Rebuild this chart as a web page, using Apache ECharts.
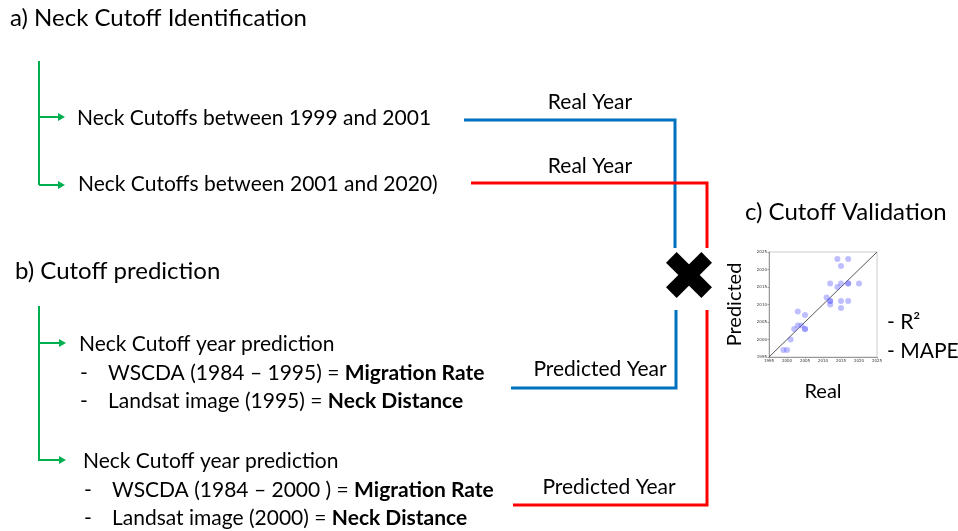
<!DOCTYPE html>
<html><head><meta charset="utf-8">
<script src="https://cdn.jsdelivr.net/npm/echarts@6/dist/echarts.min.js"></script>
<style>html,body{margin:0;padding:0;background:#fff}#c{width:958px;height:531px}</style>
</head><body><div id="c"></div>
<script>
// ---- data ----
const realYear = [1999,2000,2001,2002,2003,2004,2003,2005,2005,2005,2011,2012,2012,2012,2012,2014,2015,2017,2014,2015,2017,2017,2020,2015,2015,2017];
const predYear = [1997,1997,2000,2003,2004,2004,2008,2007,2003,2003,2012,2011,2011,2010,2016,2023,2021,2023,2015,2016,2016,2016,2016,2011,2009,2011];
const axisRange = [1995, 2025];
const tickLabels = ['1995','2000','2005','2010','2015','2020','2025'];
const sectionTitles = ['a) Neck Cutoff Identification','b) Cutoff prediction','c) Cutoff Validation'];
const cutoffItems = ['Neck Cutoffs between 1999 and 2001','Neck Cutoffs between 2001 and 2020)'];
const predItems = ['Neck Cutoff year prediction','Neck Cutoff year prediction'];
const wscda = ['WSCDA (1984 – 1995) = ','WSCDA (1984 – 2000 ) = '];
const landsat = ['Landsat image (1995) = ','Landsat image (2000) = '];
const metrics = ['- R²','- MAPE'];

const FF = 'Lato, "Open Sans", sans-serif';
const GREEN = '#00b050', BLUE = '#0070c0', RED = '#ff0000';
const TS = 21, HS = 24;
const g = [];
function txt(x,y,t,size,opt){ g.push({type:'text',style:{x:x,y:y,text:t,fill:'#000',font:(opt&&opt.bold?'bold ':'')+size+'px '+FF,textVerticalAlign:'middle',textAlign:(opt&&opt.align)||'left'}}); }
function rich(x,y,a,b,size){ g.push({type:'text',style:{x:x,y:y,text:'{n|'+a+'}{b|'+b+'}',textVerticalAlign:'middle',rich:{n:{fontFamily:FF,fontSize:size,fill:'#000',color:'#000'},b:{fontFamily:FF,fontSize:size,fontWeight:'bold',fill:'#000',color:'#000'}}}}); }
function pl(pts,color,w){ g.push({type:'polyline',shape:{points:pts},style:{stroke:color,lineWidth:w,fill:null,lineJoin:'miter'}}); }
function arrow(x0,x1,y){ pl([[x0,y],[x1-6,y]],GREEN,2); g.push({type:'polygon',shape:{points:[[x1-7,y-4],[x1,y],[x1-7,y+4]]},style:{fill:GREEN}}); }

// titles
txt(10,18,sectionTitles[0],HS);
txt(15,271,sectionTitles[1],HS);
txt(745,212,sectionTitles[2],HS);
// tree a
pl([[39,61],[39,185]],GREEN,2); arrow(39,65,117); arrow(39,65,185);
txt(77,118,cutoffItems[0],TS);
txt(78,184,cutoffItems[1],TS);
// tree b
pl([[39,306],[39,461]],GREEN,2); arrow(39,66,343); arrow(39,66,460);
txt(79,344,predItems[0],TS);
txt(80,373,'-',TS); rich(108,373,wscda[0],'Migration Rate',TS);
txt(80,401,'-',TS); rich(108,401,landsat[0],'Neck Distance',TS);
txt(83,461,predItems[1],TS);
txt(84,490,'-',TS); rich(112,490,wscda[1],'Migration Rate',TS);
txt(84,518,'-',TS); rich(112,518,landsat[1],'Neck Distance',TS);
// connectors
pl([[464,120],[675,120],[675,248]],BLUE,3);
pl([[471,183],[707,183],[707,248]],RED,3);
pl([[676,310],[676,388],[511,388]],BLUE,3);
pl([[707,310],[707,505],[513,505]],RED,3);
txt(590,102,'Real Year',TS,{align:'center'});
txt(590,166,'Real Year',TS,{align:'center'});
txt(600,369,'Predicted Year',TS,{align:'center'});
txt(609,487,'Predicted Year',TS,{align:'center'});
// X mark
[Math.PI/4,-Math.PI/4].forEach(r=>g.push({type:'rect',x:689,y:275,rotation:r,shape:{x:-25,y:-7.5,width:50,height:15},style:{fill:'#000'}}));
// metrics
txt(887,322,metrics[0],TS);
txt(887,351,metrics[1],TS);

const axisCommon = {type:'value',min:axisRange[0],max:axisRange[1],interval:5,
  axisLine:{show:true,lineStyle:{color:'#999',width:1}},axisTick:{show:true,length:1.5,lineStyle:{color:'#999'}},
  splitLine:{show:false},axisLabel:{fontSize:4,color:'#333',margin:2,fontFamily:'DejaVu Sans',formatter:v=>tickLabels[(v-axisRange[0])/5]}};

const option = {
  animation:false,
  graphic:g,
  grid:{left:769,top:252,width:108,height:105,show:true,borderColor:'#ccc',borderWidth:1},
  xAxis:Object.assign({},axisCommon,{name:'Real',nameLocation:'middle',nameGap:25,nameTextStyle:{fontSize:20,fontFamily:FF,color:'#000'}}),
  yAxis:Object.assign({},axisCommon,{name:'Predicted',nameLocation:'middle',nameGap:24,nameRotate:90,nameTextStyle:{fontSize:20,fontFamily:FF,color:'#000'}}),
  series:[
    {type:'line',data:[[axisRange[0],axisRange[0]],[axisRange[1],axisRange[1]]],symbol:'none',lineStyle:{color:'#555',width:1},z:1},
    {type:'scatter',data:realYear.map((x,i)=>[x,predYear[i]]),symbolSize:6,itemStyle:{color:'rgba(95,95,255,0.5)'},z:2}
  ]
};
echarts.init(document.getElementById('c')).setOption(option);
</script></body></html>
